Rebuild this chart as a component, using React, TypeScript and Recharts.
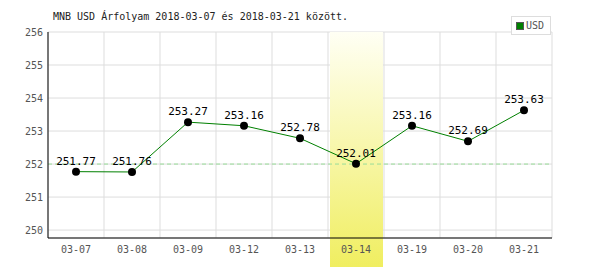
import { LineChart, Line, XAxis, YAxis, CartesianGrid, ReferenceArea, ReferenceLine, LabelList } from 'recharts';

const dates = ['03-07', '03-08', '03-09', '03-12', '03-13', '03-14', '03-19', '03-20', '03-21'];
const usdRates = [251.77, 251.76, 253.27, 253.16, 252.78, 252.01, 253.16, 252.69, 253.63];
const yTicks = [250, 251, 252, 253, 254, 255, 256];
const highlightDate = '03-14';
const refValue = 252;

const data = dates.map((d, i) => ({ date: d, usd: usdRates[i] }));

const mono = '"DejaVu Sans Mono", "Liberation Mono", monospace';

// highlighted column runs past the x axis, down to the bottom of the picture
const HighlightShape = (props: any) => {
  const { x, y, width, height } = props;
  return <rect x={x + 2} y={y} width={width - 3} height={height + 29} fill="url(#hl)" />;
};

export default function App() {
  return (
    <div style={{ position: 'absolute', left: 0, top: 0, width: 600, height: 270, background: '#fff' }}>
      <div style={{ position: 'absolute', left: 53, top: 11, fontFamily: mono, fontSize: 10, color: '#222', whiteSpace: 'nowrap' }}>
        MNB USD Árfolyam 2018-03-07 és 2018-03-21 között.
      </div>
      <div style={{
        position: 'absolute', left: 511, top: 16, width: 40, height: 19, boxSizing: 'border-box',
        border: '1px solid #ddd', background: '#fff', display: 'flex', alignItems: 'center', zIndex: 2,
      }}>
        <span style={{ width: 6, height: 6, background: '#008000', border: '1px solid #555', marginLeft: 4, marginRight: 2 }} />
        <span style={{ fontFamily: mono, fontSize: 10, color: '#555' }}>USD</span>
      </div>
      <LineChart width={600} height={270} data={data} margin={{ top: 32, right: 48, left: 0, bottom: 0 }}>
        <defs>
          <linearGradient id="hl" x1="0" y1="0" x2="0" y2="1">
            <stop offset="0%" stopColor="#fffff4" />
            <stop offset="100%" stopColor="#f0ee60" />
          </linearGradient>
        </defs>
        <CartesianGrid
          stroke="#dddddd"
          verticalCoordinatesGenerator={({ offset }: any) =>
            Array.from({ length: dates.length + 1 }, (_, i) => offset.left + (i * offset.width) / dates.length)
          }
        />
        <ReferenceArea x1={highlightDate} x2={highlightDate} ifOverflow="visible" shape={HighlightShape} />
        <XAxis
          dataKey="date"
          scale="band"
          height={32}
          tickSize={0}
          tickMargin={8}
          stroke="#000"
          tick={{ fill: '#555', fontFamily: mono, fontSize: 10 }}
        />
        <YAxis
          width={48}
          domain={[249.76, 256]}
          ticks={yTicks}
          tickSize={0}
          tickMargin={5}
          stroke="#000"
          allowDataOverflow
          tick={{ fill: '#555', fontFamily: mono, fontSize: 10 }}
        />
        <ReferenceLine y={refValue} stroke="#99dd99" strokeDasharray="4 3" />
        <Line
          type="linear"
          dataKey="usd"
          stroke="#008000"
          strokeWidth={1}
          dot={{ r: 4, fill: '#000', stroke: '#000', strokeWidth: 0 }}
          isAnimationActive={false}
        >
          <LabelList dataKey="usd" position="top" offset={7} fill="#000" fontFamily={mono} fontSize={11} />
        </Line>
      </LineChart>
    </div>
  );
}
